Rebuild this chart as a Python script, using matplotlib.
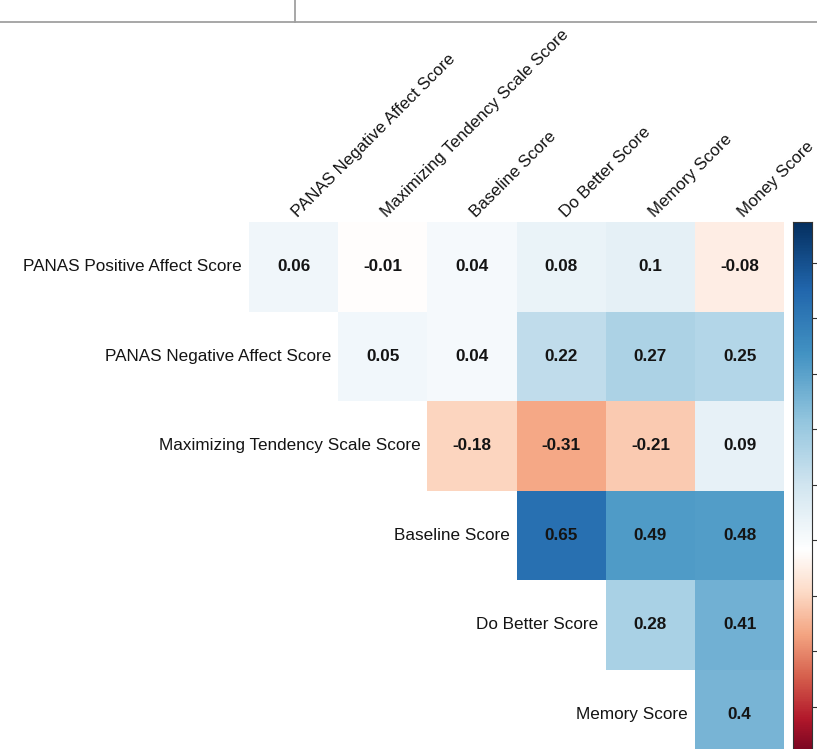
import numpy as np
import matplotlib
matplotlib.use("Agg")
import matplotlib.pyplot as plt
from matplotlib.lines import Line2D
from matplotlib.colors import LinearSegmentedColormap, TwoSlopeNorm

plt.rcParams['font.family'] = ['Liberation Sans', 'DejaVu Sans']

row_labels = ["PANAS Positive Affect Score", "PANAS Negative Affect Score",
              "Maximizing Tendency Scale Score", "Baseline Score",
              "Do Better Score", "Memory Score"]
col_labels = ["PANAS Negative Affect Score", "Maximizing Tendency Scale Score",
              "Baseline Score", "Do Better Score", "Memory Score", "Money Score"]

# correlations, row i holds the cells from column i to the right
r_positive = [0.06, -0.01, 0.04, 0.08, 0.1, -0.08]
r_negative = [0.05, 0.04, 0.22, 0.27, 0.25]
r_maximizing = [-0.18, -0.31, -0.21, 0.09]
r_baseline = [0.65, 0.49, 0.48]
r_dobetter = [0.28, 0.41]
r_memory = [0.4]

rows = [r_positive, r_negative, r_maximizing, r_baseline, r_dobetter, r_memory]
n = len(rows)
corr = np.full((n, n), np.nan)
for i, vals in enumerate(rows):
    corr[i, i:] = vals

# red-white-blue palette, scale limits for the fill
palette = ["#67001F", "#B2182B", "#D6604D", "#F4A582", "#FDDBC7", "#FFFFFF",
           "#D1E5F0", "#92C5DE", "#4393C3", "#2166AC", "#053061"]
cmap = LinearSegmentedColormap.from_list("rdwhbu", palette, N=256)
norm = TwoSlopeNorm(vmin=-0.8, vcenter=0.0, vmax=0.86)

W, H = 817, 749
fig = plt.figure(figsize=(W / 100, H / 100), dpi=100)

# heatmap axes, grid runs a bit past the bottom edge
left, top, cell_w, cell_h = 249, 222, 89.2, 89.5
ax = fig.add_axes([left / W, (H - top - n * cell_h) / H, n * cell_w / W, n * cell_h / H])
ax.pcolormesh(np.arange(n + 1), np.arange(n + 1), np.ma.masked_invalid(corr),
              cmap=cmap, norm=norm, edgecolor='none')
ax.set_xlim(0, n)
ax.set_ylim(n, 0)
ax.axis('off')

txt = '#141414'
for i in range(n):
    for j in range(i, n):
        v = corr[i, j]
        ax.text(j + 0.5, i + 0.5, f"{v:g}", ha='center', va='center',
                fontsize=12.3, fontweight='bold', color=txt)
    # row name sits just left of the first cell of the row
    ax.text(i - 0.08, i + 0.5, row_labels[i], ha='right', va='center',
            fontsize=12.3, color=txt)

for j, lab in enumerate(col_labels):
    ax.text(j + 0.55, -0.05, lab, rotation=45, rotation_mode='anchor',
            ha='left', va='baseline', fontsize=12.2, color=txt)

# colour bar: white sits below the middle, red end is squeezed
cb_top, cb_bot, cb_white = 222, 762, 550
cax = fig.add_axes([793 / W, (H - cb_bot) / H, 19 / W, (cb_bot - cb_top) / H])
t = np.linspace(0, 1, 600)
t_white = (cb_bot - cb_white) / (cb_bot - cb_top)
pos = np.interp(t, [0, t_white, 1], [0, 0.5, 1]).reshape(-1, 1)
cax.imshow(pos, extent=[0, 1, 0, 1], origin='lower', aspect='auto',
           cmap=cmap, vmin=0, vmax=1)
cax.set_ylim(0, 1)
cax.set_xlim(0, 1)
cax.set_xticks([])
cax.yaxis.tick_right()
cax.set_yticks(np.linspace(0.102, 0.925, 9))
cax.set_yticklabels([])
cax.tick_params(axis='y', length=4, width=0.8, color='#333333')
for s in cax.spines.values():
    s.set_color('#333333')
    s.set_linewidth(0.8)

# frame lines at the top of the page
fig.add_artist(Line2D([0, 1], [(H - 22) / H] * 2, color='#a0a0a0', lw=1.3))
fig.add_artist(Line2D([295 / W] * 2, [(H - 22) / H, 1], color='#a0a0a0', lw=1.3))

fig.savefig("out.png", dpi=100)
